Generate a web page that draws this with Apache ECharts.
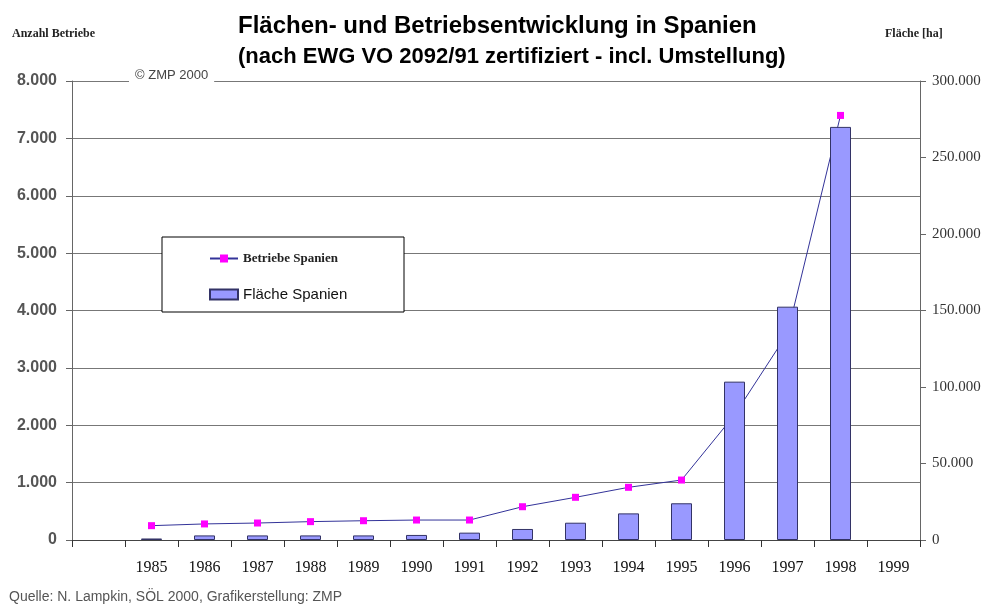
<!DOCTYPE html>
<html>
<head>
    <meta charset="utf-8">
    <title>Flächen- und Betriebsentwicklung in Spanien</title>
    <script src="https://cdn.jsdelivr.net/npm/echarts@6/dist/echarts.min.js"></script>
</head>
<body style="margin:0;background:#fff">
    <div id="main" style="width: 992px;height:606px;"></div>
    <script type="text/javascript">
        // Jahre (erste Kategorie ist leer, wie im Original)
        var jahre = ['', '1985', '1986', '1987', '1988', '1989', '1990', '1991', '1992',
                     '1993', '1994', '1995', '1996', '1997', '1998', '1999'];
        // Anzahl Betriebe (linke Achse)
        var betriebe = [null, 250, 280, 296, 320, 336, 348, 348, 580, 744, 918, 1045, 2180, 3600, 7400, null];
        // Fläche in ha (rechte Achse)
        var flaeche = [null, 1000, 3000, 3000, 3000, 3000, 3300, 4800, 7200, 11300, 17400, 24000, 103500, 152500, 270000, null];

        var betriebeAchse = { min: 0, max: 8000, interval: 1000 };
        var flaecheAchse = { min: 0, max: 300000, interval: 50000 };

        // 8000 -> "8.000"
        function tausender(v) {
            return String(v).replace(/\B(?=(\d{3})+(?!\d))/g, '.');
        }

        var myChart = echarts.init(document.getElementById('main'));

        var option = {
            backgroundColor: '#fff',
            animation: false,
            title: [
                {
                    text: 'Flächen- und Betriebsentwicklung in Spanien',
                    left: 233,
                    top: 9,
                    textStyle: { fontFamily: 'Liberation Sans', fontWeight: 'bold', fontSize: 24, color: '#000' }
                },
                {
                    text: '(nach EWG VO 2092/91 zertifiziert - incl. Umstellung)',
                    left: 233,
                    top: 41,
                    textStyle: { fontFamily: 'Liberation Sans', fontWeight: 'bold', fontSize: 22, color: '#000' }
                }
            ],
            legend: {
                orient: 'vertical',
                left: 204,
                top: 247,
                itemWidth: 28,
                itemHeight: 10,
                itemGap: 22,
                z: 20,
                data: [
                    { name: 'Betriebe Spanien', textStyle: { fontFamily: 'Liberation Serif', fontWeight: 'bold', fontSize: 13, color: '#222' } },
                    { name: 'Fläche Spanien', icon: 'rect', textStyle: { fontFamily: 'Liberation Sans', fontSize: 15, color: '#111' } }
                ]
            },
            grid: { left: 72, right: 72, top: 81, bottom: 66 },
            xAxis: {
                type: 'category',
                data: jahre,
                boundaryGap: true,
                axisLine: { lineStyle: { color: '#444' } },
                axisTick: { show: true, interval: 0, length: 7, lineStyle: { color: '#333' } },
                axisLabel: { interval: 0, margin: 20, fontFamily: 'Liberation Serif', fontSize: 16, color: '#111' }
            },
            yAxis: [
                {
                    type: 'value',
                    min: betriebeAchse.min,
                    max: betriebeAchse.max,
                    interval: betriebeAchse.interval,
                    axisLine: { show: true, lineStyle: { color: '#666' } },
                    axisTick: { show: true, length: 6, lineStyle: { color: '#666' } },
                    axisLabel: { margin: 15, fontFamily: 'Liberation Sans', fontWeight: 'bold', fontSize: 16, color: '#555', formatter: tausender },
                    splitLine: { lineStyle: { color: '#777' } }
                },
                {
                    type: 'value',
                    position: 'right',
                    min: flaecheAchse.min,
                    max: flaecheAchse.max,
                    interval: flaecheAchse.interval,
                    axisLine: { show: true, lineStyle: { color: '#666' } },
                    axisTick: { show: true, length: 6, lineStyle: { color: '#666' } },
                    axisLabel: { margin: 12, fontFamily: 'Liberation Serif', fontSize: 15, color: '#333', formatter: tausender },
                    splitLine: { show: false }
                }
            ],
            series: [
                {
                    name: 'Betriebe Spanien',
                    type: 'line',
                    yAxisIndex: 0,
                    data: betriebe,
                    z: 1,
                    symbol: 'rect',
                    symbolSize: 7,
                    itemStyle: { color: '#ff00ff' },
                    lineStyle: { color: '#333399', width: 1 }
                },
                {
                    name: 'Fläche Spanien',
                    type: 'bar',
                    yAxisIndex: 1,
                    data: flaeche,
                    z: 2,
                    barWidth: 21,
                    itemStyle: { color: '#9999ff', borderColor: '#333366', borderWidth: 1 }
                }
            ],
            graphic: [
                // Legendenrahmen
                { type: 'rect', z: 10, shape: { x: 162, y: 237, width: 242, height: 75 },
                  style: { fill: '#fff', stroke: '#000', lineWidth: 1 } },
                { type: 'text', z: 10, x: 12, y: 28,
                  style: { text: 'Anzahl Betriebe', font: 'bold 12px "Liberation Serif"', fill: '#222' } },
                { type: 'text', z: 10, x: 885, y: 28,
                  style: { text: 'Fläche [ha]', font: 'bold 12px "Liberation Serif"', fill: '#222' } },
                { type: 'text', z: 10, x: 129, y: 69,
                  style: { text: '© ZMP 2000', font: '13px "Liberation Sans"', fill: '#444',
                           backgroundColor: '#fff', padding: [0, 6, 0, 6] } },
                { type: 'text', z: 10, x: 9, y: 590,
                  style: { text: 'Quelle: N. Lampkin, SÖL 2000, Grafikerstellung: ZMP', font: '14px "Liberation Sans"', fill: '#555' } }
            ]
        };

        myChart.setOption(option);
    </script>
</body>
</html>
